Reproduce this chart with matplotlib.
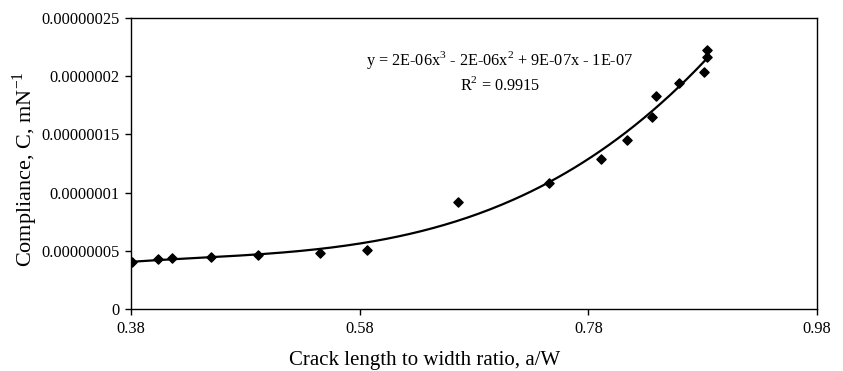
import numpy as np
import matplotlib
matplotlib.use("Agg")
import matplotlib.pyplot as plt

plt.rcParams['font.family'] = ['Liberation Serif', 'DejaVu Serif']
plt.rcParams['mathtext.fontset'] = 'custom'
plt.rcParams['mathtext.rm'] = 'Liberation Serif'

# crack length to width ratio and measured compliance
a_w = [0.381, 0.404, 0.416, 0.450, 0.491, 0.545, 0.586, 0.666, 0.746,
       0.791, 0.814, 0.836, 0.839, 0.859, 0.881, 0.884, 0.884]
compliance = [4.06e-8, 4.27e-8, 4.35e-8, 4.47e-8, 4.64e-8, 4.84e-8, 5.10e-8,
              9.16e-8, 1.082e-7, 1.291e-7, 1.449e-7, 1.652e-7, 1.827e-7,
              1.942e-7, 2.039e-7, 2.168e-7, 2.225e-7]

x_ticks = [0.38, 0.58, 0.78, 0.98]
y_ticks = [0, 5e-8, 1e-7, 1.5e-7, 2e-7, 2.5e-7]
y_labels = ['0', '0.00000005', '0.0000001', '0.00000015', '0.0000002', '0.00000025']

W, H = 843, 371
fig = plt.figure(figsize=(W / 100, H / 100), dpi=100)
ax = fig.add_axes([131 / W, 1 - 309 / H, (817 - 131) / W, (309 - 18) / H])

x = np.array(a_w)
y = np.array(compliance)

# cubic trend line
coef = np.polyfit(x, y, 3)
xs = np.linspace(x.min(), x.max(), 200)
ax.plot(xs, np.polyval(coef, xs), color='black', lw=1.6)
ax.scatter(x, y, marker='D', s=22, color='black', zorder=3)

ax.set_xlim(0.38, 0.98)
ax.set_ylim(0, 2.5e-7)
ax.set_xticks(x_ticks)
ax.set_xticklabels([f'{v:.2f}' for v in x_ticks])
ax.set_yticks(y_ticks)
ax.set_yticklabels(y_labels)
ax.tick_params(direction='out', length=4.5, width=1, pad=4, labelsize=11.8, color='black')
for s in ax.spines.values():
    s.set_linewidth(1)

fig.text(425 / W, 1 - 365 / H, 'Crack length to width ratio, a/W',
         ha='center', va='baseline', fontsize=15)
fig.text(25 / W, 1 - 169 / H, r'Compliance, C, mN$^{-1}$', rotation=90,
         ha='center', va='center', fontsize=16)

ax.text(0.7028, 2.096e-7, r'y = 2E-06x$^3$ - 2E-06x$^2$ + 9E-07x - 1E-07',
        ha='center', va='baseline', fontsize=11.7)
ax.text(0.7028, 1.881e-7, r'R$^2$ = 0.9915', ha='center', va='baseline', fontsize=11.7)

fig.savefig('out.png', dpi=100)
